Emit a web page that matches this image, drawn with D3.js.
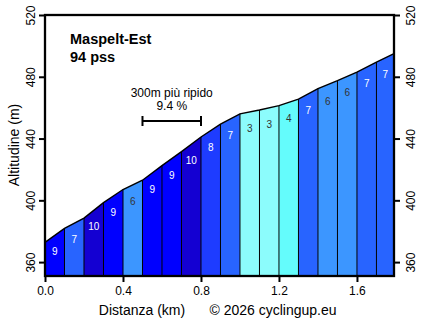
<!DOCTYPE html>
<html><head><meta charset="utf-8">
<script src="https://cdn.jsdelivr.net/npm/d3@7"></script>
<style>
body{margin:0;background:#fff;}
svg{display:block;font-family:Arial,"Liberation Sans",sans-serif;}
</style></head><body>
<svg id="c" width="434" height="322"></svg>
<script>
const distances = [0,0.1,0.2,0.3,0.4,0.5,0.6,0.7,0.8,0.9,1.0,1.1,1.2,1.3,1.4,1.5,1.6,1.7,1.79];
const elevations = [372.8,381.8,388.5,398.5,407,413,422.5,431.5,441,449.3,456,458.5,461.3,465.5,472.4,477.5,483,489.5,495];
const grades = [9,7,10,9,6,9,9,10,8,7,3,3,4,7,6,6,7,7];
const xTicks = [0,0.4,0.8,1.2,1.6];
const yTicks = [360,400,440,480,520];
const title = "Maspelt-Est";
const subtitle = "94 pss";
const steepLabel = "300m più ripido";
const steepValue = "9.4 %";
const steepRange = [0.5,0.8];

const gradeColor = d3.scaleOrdinal()
  .domain([3,4,6,7,8,9,10])
  .range(["#8cfcfc","#64fcfc","#3c96ff","#2864ff","#1e3cff","#0000ff","#1400d2"]);
const darkText = new Set([3,4,6]);

const L=45,R=394,T=15,B=276;
const x = d3.scaleLinear().domain([0,1.79]).range([L,R]);
const y = d3.scaleLinear().domain([351,520]).range([B,T]);
const svg = d3.select("#c");
const FF = "Arial,'Liberation Sans',sans-serif";

// segments
const segs = grades.map((g,i)=>({g,x0:distances[i],x1:distances[i+1],e0:elevations[i],e1:elevations[i+1]}));
svg.append("g").selectAll("path").data(segs).join("path")
  .attr("d",d=>`M${x(d.x0)},${B}L${x(d.x0)},${y(d.e0)}L${x(d.x1)},${y(d.e1)}L${x(d.x1)},${B}Z`)
  .attr("fill",d=>gradeColor(d.g)).attr("stroke","none");
// separators
svg.append("g").selectAll("line").data(distances.slice(1,-1).map((d,i)=>({d,e:elevations[i+1]}))).join("line")
  .attr("x1",d=>x(d.d)).attr("x2",d=>x(d.d)).attr("y1",B).attr("y2",d=>y(d.e))
  .attr("stroke","#000").attr("stroke-width",1);
// profile line
svg.append("path").datum(distances.map((d,i)=>[d,elevations[i]]))
  .attr("d",d3.line().x(d=>x(d[0])).y(d=>y(d[1])))
  .attr("fill","none").attr("stroke","#000").attr("stroke-width",1.4);
// grade labels
svg.append("g").selectAll("text").data(segs).join("text")
  .attr("x",d=>x((d.x0+d.x1)/2)).attr("y",d=>y((d.e0+d.e1)/2)+20)
  .attr("text-anchor","middle").attr("font-size",10)
  .attr("fill",d=>darkText.has(d.g)?"#333":"#fff").text(d=>d.g);

// frame
svg.append("rect").attr("x",L).attr("y",T).attr("width",R-L).attr("height",B-T)
  .attr("fill","none").attr("stroke","#000").attr("stroke-width",2.3);

// axes
const xAxis = d3.axisBottom(x).tickValues(xTicks).tickFormat(d3.format(".1f")).tickSize(6).tickPadding(4);
const gx = svg.append("g").attr("transform",`translate(0,${B})`).call(xAxis);
gx.select(".domain").remove();
gx.selectAll("line").attr("stroke-width",2);
gx.selectAll("text").attr("font-size",12).attr("fill","#000").attr("font-family",FF);

function yAx(axis, xpos, dx){
  const g = svg.append("g").attr("transform",`translate(${xpos},0)`).call(axis);
  g.select(".domain").remove();
  g.selectAll("line").attr("stroke-width",2);
  g.selectAll("text").attr("font-size",12).attr("fill","#000").attr("font-family",FF)
    .attr("text-anchor","middle").attr("x",null).attr("dy","0")
    .attr("transform",`translate(${dx},0) rotate(-90)`);
  return g;
}
yAx(d3.axisLeft(y).tickValues(yTicks).tickSize(6),L,-10);
yAx(d3.axisRight(y).tickValues(yTicks).tickSize(6),R,21);

// axis titles
svg.append("text").attr("x",142).attr("y",315).attr("text-anchor","middle").attr("font-size",14).text("Distanza (km)");
svg.append("text").attr("x",273).attr("y",315).attr("text-anchor","middle").attr("font-size",14).text("© 2026 cyclingup.eu");
svg.append("text").attr("transform","translate(19,145) rotate(-90)").attr("text-anchor","middle").attr("font-size",14).text("Altitudine (m)");

// title
svg.append("text").attr("x",70).attr("y",43.5).attr("font-size",14.5).attr("font-weight","bold").text(title);
svg.append("text").attr("x",70).attr("y",62).attr("font-size",14.5).attr("font-weight","bold").text(subtitle);

// steepest annotation
const cx = x((steepRange[0]+steepRange[1])/2);
svg.append("text").attr("x",cx).attr("y",97).attr("text-anchor","middle").attr("font-size",12).text(steepLabel);
svg.append("text").attr("x",cx).attr("y",110).attr("text-anchor","middle").attr("font-size",12).text(steepValue);
const by = 121;
svg.append("line").attr("x1",x(steepRange[0])).attr("x2",x(steepRange[1])).attr("y1",by).attr("y2",by).attr("stroke","#000").attr("stroke-width",2);
[steepRange[0],steepRange[1]].forEach(v=>svg.append("line").attr("x1",x(v)).attr("x2",x(v)).attr("y1",by-5).attr("y2",by+5).attr("stroke","#000").attr("stroke-width",2));
</script></body></html>
